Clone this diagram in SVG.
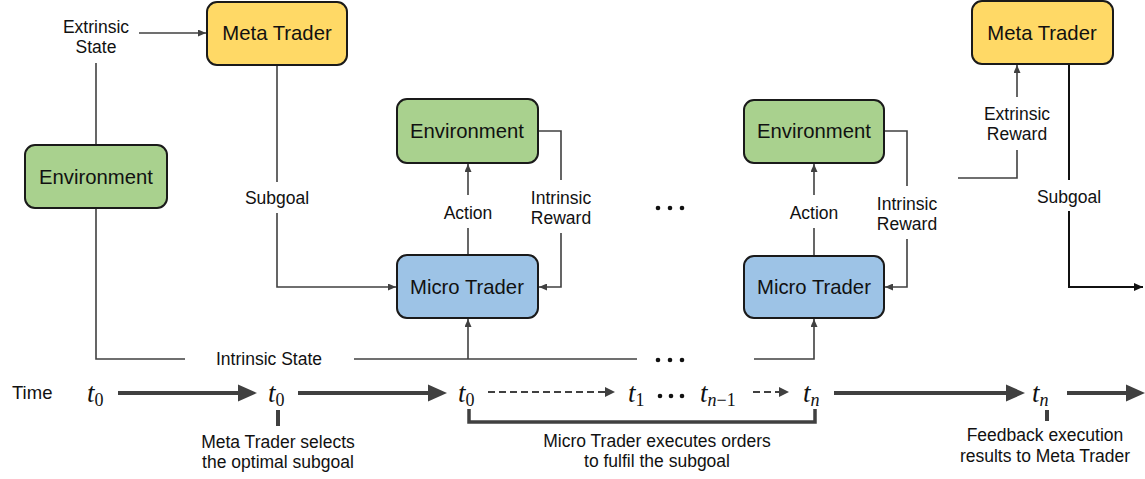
<svg xmlns="http://www.w3.org/2000/svg" width="1145" height="479" viewBox="0 0 1145 479">
<style>
.node{stroke:#1a1a1a;stroke-width:2}
.meta{fill:#FFD966}
.env{fill:#A9D18E}
.micro{fill:#9DC3E6}
.nt{font-family:"Liberation Sans",Arial,sans-serif;font-size:20.3px;fill:#111;text-anchor:middle}
.lb{font-family:"Liberation Sans",Arial,sans-serif;font-size:17.5px;fill:#111;text-anchor:middle}
.c{fill:none;stroke:#404040;stroke-width:1.6}
.cb{fill:none;stroke:#111;stroke-width:2}
.tl{fill:none;stroke:#404040;stroke-width:4}
.dl{fill:none;stroke:#404040;stroke-width:2;stroke-dasharray:7 4}
.ah{fill:#404040}
.m{font-family:"Liberation Serif","Times New Roman",serif;font-size:27px;font-style:italic;fill:#111}
.s{font-size:18px;font-style:normal}
.si{font-size:18px;font-style:italic}
</style>
<defs>
<marker id="a" viewBox="0 0 8 7" refX="8" refY="3.5" markerWidth="8" markerHeight="7" markerUnits="userSpaceOnUse" orient="auto">
<path d="M0,0 L8,3.5 L0,7 z" fill="#404040"/>
</marker>
<marker id="ab" viewBox="0 0 9 8" refX="9" refY="4" markerWidth="9" markerHeight="8" markerUnits="userSpaceOnUse" orient="auto">
<path d="M0,0 L9,4 L0,8 z" fill="#111"/>
</marker>
</defs>

<g id="connectors">
<path class="c" d="M139,33 L206,33" marker-end="url(#a)"/>
<path class="c" d="M96,63 L96,145"/>
<path class="c" d="M96,208 L96,359 L185,359"/>
<path class="c" d="M354,359 L637,359"/>
<path class="c" d="M468,359 L468,319" marker-end="url(#a)"/>
<path class="c" d="M754,359 L814,359 L814,319" marker-end="url(#a)"/>
<path class="c" d="M277,65 L277,182"/>
<path class="c" d="M277,213 L277,287 L396,287" marker-end="url(#a)"/>
<path class="c" d="M468,255 L468,228"/>
<path class="c" d="M468,195 L468,164" marker-end="url(#a)"/>
<path class="c" d="M538,131 L561,131 L561,180"/>
<path class="c" d="M561,233 L561,287 L539,287" marker-end="url(#a)"/>
<path class="c" d="M814,256 L814,228"/>
<path class="c" d="M814,195 L814,164" marker-end="url(#a)"/>
<path class="c" d="M884,131 L907,131 L907,186"/>
<path class="c" d="M907,239 L907,287 L885,287" marker-end="url(#a)"/>
<path class="c" d="M958,178 L1017,178 L1017,150"/>
<path class="c" d="M1017,97 L1017,65" marker-end="url(#a)"/>
<path class="cb" d="M1069,64 L1069,180"/>
<path class="cb" d="M1069,211 L1069,287 L1143,287" marker-end="url(#ab)"/>
</g>

<g id="connector-labels">
<text class="lb" x="96" y="33">Extrinsic</text>
<text class="lb" x="96" y="53">State</text>
<text class="lb" x="277" y="204">Subgoal</text>
<text class="lb" x="468" y="219">Action</text>
<text class="lb" x="561" y="204">Intrinsic</text>
<text class="lb" x="561" y="224">Reward</text>
<text class="lb" x="814" y="219">Action</text>
<text class="lb" x="907" y="210">Intrinsic</text>
<text class="lb" x="907" y="230">Reward</text>
<text class="lb" x="1017" y="120">Extrinsic</text>
<text class="lb" x="1017" y="140">Reward</text>
<text class="lb" x="1069" y="203">Subgoal</text>
<text class="lb" x="269" y="365">Intrinsic State</text>
<g fill="#111">
<circle cx="658" cy="208" r="2.3"/><circle cx="670" cy="208" r="2.3"/><circle cx="682" cy="208" r="2.3"/>
<circle cx="658" cy="360" r="2.3"/><circle cx="670" cy="360" r="2.3"/><circle cx="682" cy="360" r="2.3"/>
</g>
</g>

<g id="meta-trader-1"><rect class="node meta" x="207" y="2" width="140" height="63" rx="10"/><text class="nt" x="277" y="40">Meta Trader</text></g>
<g id="environment-1"><rect class="node env" x="25" y="145" width="142" height="63" rx="10"/><text class="nt" x="96" y="184">Environment</text></g>
<g id="environment-2"><rect class="node env" x="397" y="99" width="141" height="64" rx="10"/><text class="nt" x="467" y="138">Environment</text></g>
<g id="micro-trader-1"><rect class="node micro" x="397" y="255" width="141" height="63" rx="10"/><text class="nt" x="467" y="294">Micro Trader</text></g>
<g id="environment-3"><rect class="node env" x="744" y="100" width="140" height="63" rx="10"/><text class="nt" x="814" y="138">Environment</text></g>
<g id="micro-trader-2"><rect class="node micro" x="744" y="256" width="140" height="62" rx="10"/><text class="nt" x="814" y="294">Micro Trader</text></g>
<g id="meta-trader-2"><rect class="node meta" x="972" y="1" width="141" height="63" rx="10"/><text class="nt" x="1042" y="40">Meta Trader</text></g>

<g id="timeline">
<text class="lb" x="12" y="399" style="text-anchor:start;font-size:18.5px">Time</text>
<path class="tl" d="M118,393 L240,393"/><path class="ah" d="M238,384.5 L257,393 L238,401.5 z"/>
<path class="tl" d="M298,393 L430,393"/><path class="ah" d="M428,384.5 L447,393 L428,401.5 z"/>
<path class="tl" d="M834,393 L1008,393"/><path class="ah" d="M1006,384.5 L1025,393 L1006,401.5 z"/>
<path class="tl" d="M1067,393 L1128,393"/><path class="ah" d="M1126,384.5 L1145,393 L1126,401.5 z"/>
<path class="dl" d="M488,392 L607,392"/><path class="ah" d="M605,387 L615,392 L605,397 z"/>
<path class="dl" d="M753,392 L781,392"/><path class="ah" d="M779,387 L789,392 L779,397 z"/>
<text class="m" x="87" y="402">t<tspan class="s" dy="4">0</tspan></text>
<text class="m" x="268" y="402">t<tspan class="s" dy="4">0</tspan></text>
<text class="m" x="458" y="402">t<tspan class="s" dy="4">0</tspan></text>
<text class="m" x="628" y="402">t<tspan class="s" dy="4">1</tspan></text>
<text class="m" x="700" y="402">t<tspan class="si" dy="4">n</tspan><tspan class="s">−1</tspan></text>
<text class="m" x="803" y="402">t<tspan class="si" dy="4">n</tspan></text>
<text class="m" x="1032" y="402">t<tspan class="si" dy="4">n</tspan></text>
<g fill="#111"><circle cx="660" cy="396" r="2.3"/><circle cx="671" cy="396" r="2.3"/><circle cx="682" cy="396" r="2.3"/></g>
<path class="tl" d="M278,410 L278,426"/>
<path class="tl" d="M1047,410 L1047,421"/>
<path d="M469,409 L469,422 L815,422 L815,409" fill="none" stroke="#404040" stroke-width="3.5"/>
<text class="lb" x="278" y="448">Meta Trader selects</text>
<text class="lb" x="278" y="468">the optimal subgoal</text>
<text class="lb" x="657" y="447">Micro Trader executes orders</text>
<text class="lb" x="657" y="467">to fulfil the subgoal</text>
<text class="lb" x="1045" y="441">Feedback execution</text>
<text class="lb" x="1045" y="462">results to Meta Trader</text>
</g>
</svg>
